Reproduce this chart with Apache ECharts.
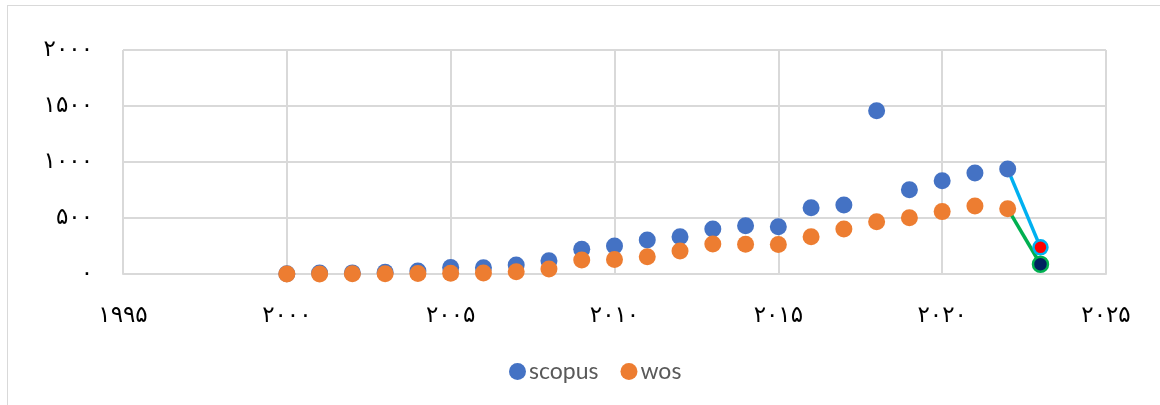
<!DOCTYPE html>
<html>
<head>
<meta charset="utf-8">
<script src="https://cdn.jsdelivr.net/npm/echarts@6/dist/echarts.min.js"></script>
<style>
html,body{margin:0;padding:0;background:#fff;}
#frame{position:absolute;left:7px;top:5px;width:1170px;height:420px;border:1px solid #d9d9d9;box-sizing:border-box;}
#chart{position:absolute;left:0;top:0;width:1160px;height:405px;}
</style>
</head>
<body>
<div id="frame"></div>
<div id="chart"></div>
<script>
const years = [2000,2001,2002,2003,2004,2005,2006,2007,2008,2009,2010,2011,2012,2013,2014,2015,2016,2017,2018,2019,2020,2021,2022,2023];
const scopus = [3,8,10,16,27,58,56,80,119,220,250,304,333,402,430,422,592,617,1458,752,833,901,937,238];
const wos = [0,1,2,3,5,7,8,20,45,125,130,155,205,268,265,263,333,402,467,503,557,608,583,87];
const xTicks = [1995,2000,2005,2010,2015,2020,2025];
const yTicks = [0,500,1000,1500,2000];

const fa = '۰۱۲۳۴۵۶۷۸۹';
function toFa(v){ return String(v).replace(/[0-9]/g, d => fa[+d]); }

const n = years.length;
const scopusData = years.map((y,i)=> i===n-1
  ? {value:[y,scopus[i]], symbolSize:14, itemStyle:{color:'#FF0000', borderColor:'#00B0F0', borderWidth:2.5}}
  : [y,scopus[i]]);
const wosData = years.map((y,i)=> i===n-1
  ? {value:[y,wos[i]], symbolSize:15, itemStyle:{color:'#002060', borderColor:'#00B050', borderWidth:2.5}}
  : [y,wos[i]]);

const chart = echarts.init(document.getElementById('chart'));
const labelFont = {fontFamily:'DejaVu Sans', fontSize:23, color:'#000'};
chart.setOption({
  animation:false,
  backgroundColor:'transparent',
  grid:{left:123, right:54, top:50, bottom:131},
  xAxis:{
    type:'value', min:xTicks[0], max:xTicks[xTicks.length-1], interval:5,
    axisLine:{show:true, lineStyle:{color:'#d9d9d9', width:2}},
    axisTick:{show:false},
    axisLabel:Object.assign({margin:31, formatter:v=>toFa(v)}, labelFont),
    splitLine:{show:true, lineStyle:{color:'#d9d9d9', width:2}}
  },
  yAxis:{
    type:'value', min:yTicks[0], max:yTicks[yTicks.length-1], interval:500,
    axisLine:{show:false},
    axisTick:{show:false},
    axisLabel:Object.assign({margin:30, formatter:v=>toFa(v)}, labelFont),
    splitLine:{show:true, lineStyle:{color:'#d9d9d9', width:2}}
  },
  legend:{
    data:['scopus','wos'], bottom:17, left:504,
    icon:'circle', itemWidth:17, itemHeight:17, itemGap:22,
    textStyle:{fontFamily:'Lato', fontSize:23, color:'#595959', padding:[0,0,0,-2]}
  },
  series:[
    {name:'scopusLine', type:'line', data:[[years[n-2],scopus[n-2]],[years[n-1],scopus[n-1]]],
     symbol:'none', lineStyle:{color:'#00B0F0', width:3.5}, z:1, silent:true},
    {name:'wosLine', type:'line', data:[[years[n-2],wos[n-2]],[years[n-1],wos[n-1]]],
     symbol:'none', lineStyle:{color:'#00B050', width:3.5}, z:1, silent:true},
    {name:'scopus', type:'scatter', data:scopusData, symbolSize:17, itemStyle:{color:'#4472C4', opacity:1}, z:3},
    {name:'wos', type:'scatter', data:wosData, symbolSize:17, itemStyle:{color:'#ED7D31', opacity:1}, z:4}
  ]
});
</script>
</body>
</html>
